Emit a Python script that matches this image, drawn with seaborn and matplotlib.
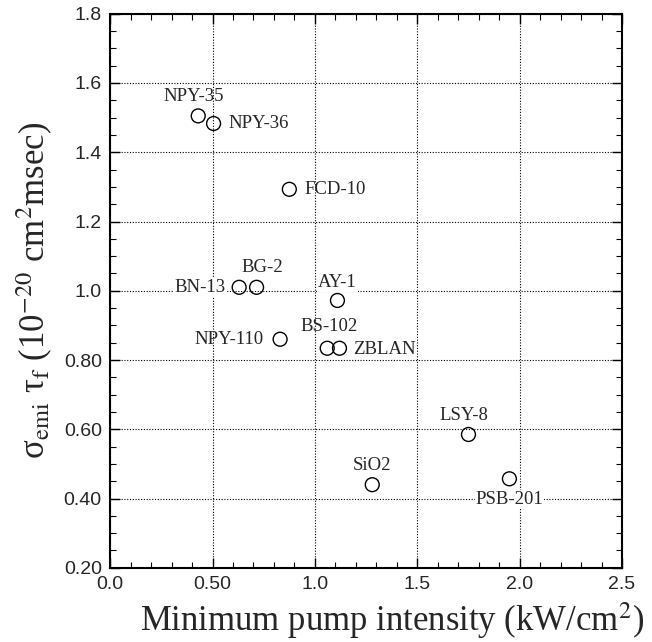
import numpy as np
import pandas as pd
import matplotlib
matplotlib.use('Agg')
import matplotlib.pyplot as plt
import seaborn as sns

# glass data
glasses = ['NPY-35', 'NPY-36', 'FCD-10', 'BN-13', 'BG-2', 'AY-1',
           'NPY-110', 'BS-102', 'ZBLAN', 'LSY-8', 'SiO2', 'PSB-201']
pump_min = [0.43, 0.505, 0.875, 0.63, 0.715, 1.11,
            0.83, 1.06, 1.12, 1.75, 1.28, 1.95]
sigma_tau = [1.505, 1.483, 1.293, 1.01, 1.01, 0.972,
             0.86, 0.834, 0.834, 0.585, 0.44, 0.457]

xticks = [0.0, 0.5, 1.0, 1.5, 2.0, 2.5]
xticklabels = ['0.0', '0.50', '1.0', '1.5', '2.0', '2.5']
yticks = [0.2, 0.4, 0.6, 0.8, 1.0, 1.2, 1.4, 1.6, 1.8]
yticklabels = ['0.20', '0.40', '0.60', '0.80', '1.0', '1.2', '1.4', '1.6', '1.8']

df = pd.DataFrame({'glass': glasses, 'pump': pump_min, 'st': sigma_tau})

# label placement (offset in points, ha, white box)
label_pos = {
    'NPY-35': ((-3, 14), 'center', False),
    'NPY-36': ((11, 0), 'left', False),
    'FCD-10': ((11, 0), 'left', False),
    'BN-13': ((-10, 0), 'right', True),
    'BG-2': ((4, 14), 'center', False),
    'AY-1': ((0, 13), 'center', True),
    'NPY-110': ((-12, 0), 'right', False),
    'BS-102': ((1, 16), 'center', False),
    'ZBLAN': ((10, -1), 'left', True),
    'LSY-8': ((-3, 14), 'center', False),
    'SiO2': ((0, 14), 'center', False),
    'PSB-201': ((0, -15), 'center', True),
}

sns.set_style('ticks')
plt.rcParams['mathtext.fontset'] = 'stix'

fig = plt.figure(figsize=(6.52, 6.42), dpi=100)
ax = fig.add_axes([0.169, 0.1156, 0.785, 0.863])

sns.scatterplot(data=df, x='pump', y='st', ax=ax, marker='o', s=100,
                facecolor='none', edgecolor='black', linewidth=1.0, zorder=5)

for g, x, y in zip(glasses, pump_min, sigma_tau):
    off, ha, box = label_pos[g]
    bb = dict(boxstyle='square,pad=0.05', fc='white', ec='none') if box else None
    ax.annotate(g, (x, y), xytext=off, textcoords='offset points',
                ha=ha, va='center', fontsize=13.5, family='Liberation Serif',
                bbox=bb, zorder=4)

ax.set_xlim(0, 2.5)
ax.set_ylim(0.2, 1.8)
ax.set_xticks(xticks)
ax.set_xticklabels(xticklabels, family='Liberation Sans', fontsize=14)
ax.set_yticks(yticks)
ax.set_yticklabels(yticklabels, family='Liberation Sans', fontsize=14)
ax.set_xticks(np.arange(0, 2.51, 0.1), minor=True)
ax.set_yticks(np.arange(0.2, 1.81, 0.05), minor=True)
ax.tick_params(which='both', direction='in', top=True, right=True, color='black')
ax.tick_params(which='major', length=7, width=1.0, pad=6)
ax.tick_params(which='minor', length=4, width=0.8)
ax.grid(True, which='major', linestyle=(0, (1, 1.5)), color='black', linewidth=0.8, zorder=1)
ax.set_axisbelow(True)
for sp in ax.spines.values():
    sp.set_linewidth(1.5)
    sp.set_color('black')

ax.set_xlabel('Minimum pump intensity (kW/cm$^2$)', family='Liberation Serif',
              fontsize=25)
ax.xaxis.set_label_coords(0.55, -0.058, transform=ax.transAxes)
ax.xaxis.label.set_va('top')
ax.set_ylabel('σ$_{\\rm emi}$ τ$_{\\rm f}$ (10$^{-20}$ cm$^2$msec)',
              family='Liberation Serif', fontsize=25, labelpad=6)

fig.savefig('out.png', dpi=100)
